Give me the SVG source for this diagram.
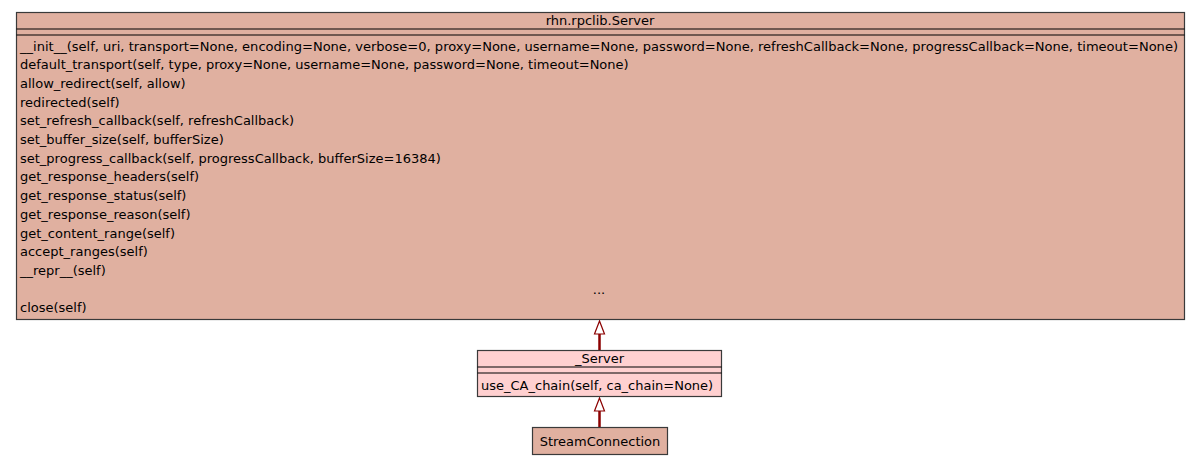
<svg xmlns="http://www.w3.org/2000/svg" width="1200" height="467" viewBox="0 0 1200 467">
<style>
.box{stroke:#3a3a3a;stroke-width:1.2}
.main{fill:#e0b0a0}
.pink{fill:#ffd0d0}
.sep{stroke:#000;stroke-width:1.2}
text{font-family:"DejaVu Sans",sans-serif;font-size:13px;fill:#000}
.c{text-anchor:middle}
.edge{stroke:#8b0000;stroke-width:2.5;fill:none}
.head{fill:#fff;stroke:#8b0000;stroke-width:1.2}
</style>
<rect width="1200" height="467" fill="#fff"/>
<g id="connectors">
<line class="edge" x1="599.5" y1="350" x2="599.5" y2="333"/>
<polygon class="head" points="599.5,321 594.5,334 604.5,334"/>
<line class="edge" x1="599.5" y1="427" x2="599.5" y2="410"/>
<polygon class="head" points="599.5,398 594.5,411 604.5,411"/>
</g>
<g id="rhn.rpclib.Server">
<rect class="box main" x="16.5" y="12.5" width="1168" height="307"/>
<line class="sep" x1="16.5" y1="29" x2="1184.5" y2="29"/>
<line class="sep" x1="16.5" y1="35" x2="1184.5" y2="35"/>
<text class="c" x="600" y="24.5">rhn.rpclib.Server</text>
<text x="20" y="50.5" textLength="1158" lengthAdjust="spacingAndGlyphs">__init__(self, uri, transport=None, encoding=None, verbose=0, proxy=None, username=None, password=None, refreshCallback=None, progressCallback=None, timeout=None)</text>
<text x="20" y="69.2">default_transport(self, type, proxy=None, username=None, password=None, timeout=None)</text>
<text x="20" y="87.9">allow_redirect(self, allow)</text>
<text x="20" y="106.6">redirected(self)</text>
<text x="20" y="125.3">set_refresh_callback(self, refreshCallback)</text>
<text x="20" y="144">set_buffer_size(self, bufferSize)</text>
<text x="20" y="162.7">set_progress_callback(self, progressCallback, bufferSize=16384)</text>
<text x="20" y="181.4">get_response_headers(self)</text>
<text x="20" y="200.1">get_response_status(self)</text>
<text x="20" y="218.8">get_response_reason(self)</text>
<text x="20" y="237.5">get_content_range(self)</text>
<text x="20" y="256.2">accept_ranges(self)</text>
<text x="20" y="274.9">__repr__(self)</text>
<text class="c" x="599" y="293.5">...</text>
<text x="20" y="312.3">close(self)</text>
</g>
<g id="_Server">
<rect class="box pink" x="477.5" y="350.5" width="244" height="46"/>
<line class="sep" x1="477.5" y1="367" x2="721.5" y2="367"/>
<line class="sep" x1="477.5" y1="373" x2="721.5" y2="373"/>
<text class="c" x="599.5" y="362.5">_Server</text>
<text x="481" y="389.5">use_CA_chain(self, ca_chain=None)</text>
</g>
<g id="StreamConnection">
<rect class="box main" x="532.5" y="427.5" width="135" height="27"/>
<text class="c" x="600" y="445.5">StreamConnection</text>
</g>
</svg>
